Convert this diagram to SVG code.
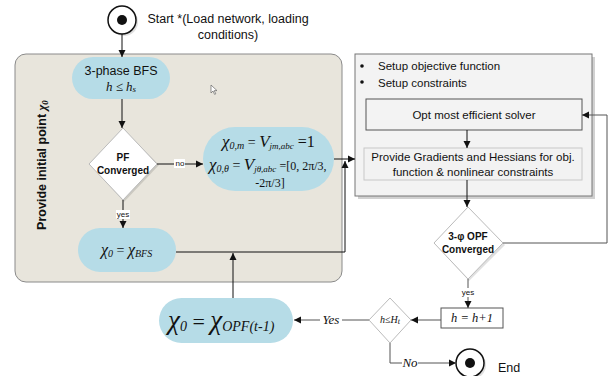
<svg xmlns="http://www.w3.org/2000/svg" width="610" height="376" viewBox="0 0 610 376">
<style>
.sans{font-family:"Liberation Sans","Open Sans",sans-serif;fill:#111}
.math{font-family:"Liberation Serif","DejaVu Serif",serif;font-style:italic;fill:#111}
.up{font-family:"Liberation Serif","DejaVu Serif",serif;font-style:normal;fill:#111}
.pill{fill:#b6dce7;stroke:none}
.ln{fill:none;stroke:#111;stroke-width:1}
.lng{fill:none;stroke:#555;stroke-width:1}
.dia{fill:#fff;stroke:#bbb;stroke-width:1}
.shadow{fill:#000;opacity:0.12}
</style>
<defs>
<marker id="ah" markerWidth="8" markerHeight="8" refX="7" refY="4" orient="auto" markerUnits="userSpaceOnUse">
<path d="M0,0.5 L7,4 L0,7.5 Z" fill="#111"/>
</marker>
</defs>
<rect width="610" height="376" fill="#fff"/>

<g id="panel">
<rect x="15" y="54" width="327" height="228" rx="11" fill="#e8e5dc" stroke="#8a8a8a" stroke-width="1"/>
<text class="sans" font-size="12.5" font-weight="bold" transform="translate(46,165) rotate(-90)" text-anchor="middle">Provide initial point <tspan class="math" font-weight="bold">χ</tspan><tspan class="math" font-size="9" dy="2">0</tspan></text>
<path d="M211,85 l0,8 l2,-2 l1.6,3.4 l1.2,-0.6 l-1.6,-3.2 l2.8,0 Z" fill="#fff" stroke="#666" stroke-width="0.7"/>
</g>

<g id="start">
<circle cx="123" cy="21" r="14" class="shadow" transform="translate(1,1)"/>
<circle cx="122" cy="20" r="14" fill="#fff" stroke="#111" stroke-width="1.5"/>
<circle cx="122" cy="20" r="5" fill="#111"/>
<text class="sans" font-size="12.5" x="228" y="23" text-anchor="middle">Start *(Load network, loading</text>
<text class="sans" font-size="12.5" x="228" y="39" text-anchor="middle">conditions)</text>
</g>

<g id="bfs">
<rect x="72" y="57" width="98" height="42" rx="21" class="pill"/>
<text class="sans" font-size="12.5" x="121" y="75" text-anchor="middle">3-phase BFS</text>
<text class="math" font-size="13" x="121" y="91" text-anchor="middle">h ≤  h<tspan font-size="9" dy="1">s</tspan></text>
</g>

<g id="pf">
<polygon points="124,130 159,165 124,202 91,165" class="shadow"/>
<polygon points="123,128 157,164 123,200 89,164" class="dia"/>
<text class="sans" font-size="10" font-weight="bold" x="123" y="161" text-anchor="middle">PF</text>
<text class="sans" font-size="10" font-weight="bold" x="123" y="174" text-anchor="middle">Converged</text>
</g>

<g id="init">
<rect x="203" y="127" width="131" height="64" rx="32" class="pill"/>
<text class="math" x="222" y="147" font-size="17">χ<tspan font-size="10" dy="2">0,m</tspan><tspan font-style="normal" font-size="14" dy="-2">  =  </tspan>V<tspan font-size="9" dy="2">jm,abc</tspan><tspan font-style="normal" font-size="16" dy="-2"> =1</tspan></text>
<text class="math" x="209" y="170" font-size="17">χ<tspan font-size="10" dy="2">0,θ</tspan><tspan font-style="normal" font-size="14" dy="-2">  =  </tspan>V<tspan font-size="9" dy="2">jθ,abc</tspan><tspan font-style="normal" font-size="12" dy="-2"> =[0, 2π/3,</tspan></text>
<text class="up" x="270" y="187" font-size="12" text-anchor="middle">-2π/3]</text>
</g>

<g id="x0bfs">
<rect x="78" y="228" width="98" height="44" rx="22" class="pill"/>
<text class="math" x="101" y="255" font-size="16">χ<tspan font-size="10" dy="2">0</tspan><tspan font-style="normal" font-size="14" dy="-2">  =  </tspan>χ<tspan font-size="10" dy="2">BFS</tspan></text>
</g>

<g id="optbox">
<rect x="358" y="57" width="237" height="142" fill="#000" opacity="0.18"/>
<rect x="355" y="54" width="237" height="142" fill="#f3f3f3" stroke="#777" stroke-width="1"/>
<circle cx="362" cy="66" r="1.8" fill="#111"/>
<circle cx="362" cy="82" r="1.8" fill="#111"/>
<text class="sans" font-size="11.5" x="378" y="70">Setup objective function</text>
<text class="sans" font-size="11.5" x="378" y="87">Setup constraints</text>
</g>

<g id="solver">
<rect x="366" y="99" width="216" height="31" fill="#f3f3f3" stroke="#555" stroke-width="1"/>
<text class="sans" font-size="11.5" x="474" y="119" text-anchor="middle">Opt most efficient solver</text>
</g>

<g id="grad">
<rect x="364" y="148" width="218" height="32" fill="#f2f2f2" stroke="#c8c8c8" stroke-width="1"/>
<text class="sans" font-size="11.5" x="473" y="161" text-anchor="middle">Provide Gradients and Hessians for obj.</text>
<text class="sans" font-size="11.5" x="473" y="176" text-anchor="middle">function &amp; nonlinear constraints</text>
</g>

<g id="opfconv">
<polygon points="469,209 505,245 469,281 436,245" class="shadow"/>
<polygon points="468,207 503,243 468,279 434,243" class="dia"/>
<text class="sans" font-size="10" font-weight="bold" x="468" y="240" text-anchor="middle">3-φ OPF</text>
<text class="sans" font-size="10" font-weight="bold" x="468" y="253" text-anchor="middle">Converged</text>
</g>

<g id="inc">
<rect x="441" y="308" width="62" height="20" fill="#fff" stroke="#555" stroke-width="1"/>
<text class="math" font-size="12.5" x="472" y="322" text-anchor="middle">h = h+1</text>
</g>

<g id="hle">
<polygon points="390,298 411,320 390,343 369,320" class="dia"/>
<text class="math" font-size="10" x="390" y="323" text-anchor="middle">h≤H<tspan font-size="8" dy="1">t</tspan></text>
</g>

<g id="x0opf">
<rect x="159" y="298" width="134" height="45" rx="22.5" class="pill"/>
<text class="math" x="168" y="329" font-size="27">χ<tspan font-size="14" dy="2">0</tspan><tspan font-style="normal" font-size="22" dy="-2"> = </tspan>χ<tspan font-size="14" dy="2">OPF(t-1)</tspan></text>
</g>

<g id="end">
<circle cx="471" cy="364" r="14" class="shadow" transform="translate(1,1)"/>
<circle cx="470" cy="363" r="14" fill="#fff" stroke="#111" stroke-width="1.5"/>
<circle cx="470" cy="363" r="5" fill="#111"/>
<text class="sans" font-size="12.5" x="498" y="372">End</text>
</g>

<g id="connectors">
<line x1="122" y1="34" x2="122" y2="57" class="ln" marker-end="url(#ah)"/>
<line x1="122" y1="99" x2="122" y2="128" class="ln" marker-end="url(#ah)"/>
<line x1="157" y1="164" x2="203" y2="164" class="ln" marker-end="url(#ah)"/>
<rect x="174" y="159" width="11" height="9" fill="#fff"/>
<text class="sans" font-size="8" x="180" y="166" text-anchor="middle">no</text>
<line x1="123" y1="200" x2="123" y2="228" class="ln" marker-end="url(#ah)"/>
<rect x="116" y="210" width="14" height="9" fill="#fff"/>
<text class="sans" font-size="8" x="123" y="217" text-anchor="middle">yes</text>
<line x1="334" y1="159" x2="355" y2="159" class="ln" marker-end="url(#ah)"/>
<path d="M176,252 H345 V161" class="ln" marker-end="url(#ah)"/>
<line x1="233" y1="298" x2="233" y2="253" class="ln" marker-end="url(#ah)"/>
<line x1="467" y1="130" x2="467" y2="148" class="ln" marker-end="url(#ah)"/>
<line x1="467" y1="180" x2="467" y2="207" class="ln" marker-end="url(#ah)"/>
<path d="M503,243 H607 V115 H582" class="lng" marker-end="url(#ah)"/>
<line x1="468" y1="279" x2="468" y2="308" class="lng" marker-end="url(#ah)"/>
<rect x="461" y="288" width="14" height="9" fill="#fff"/>
<text class="sans" font-size="8" x="468" y="295" text-anchor="middle">yes</text>
<line x1="441" y1="320" x2="411" y2="320" class="lng" marker-end="url(#ah)"/>
<line x1="369" y1="320" x2="294" y2="320" class="lng" marker-end="url(#ah)"/>
<rect x="320" y="312" width="22" height="14" fill="#fff"/>
<text class="math" font-size="13" x="331" y="324" text-anchor="middle">Yes</text>
<path d="M390,343 V363 H456" class="lng" marker-end="url(#ah)"/>
<rect x="402" y="356" width="16" height="14" fill="#fff"/>
<text class="math" font-size="13" x="410" y="367" text-anchor="middle">No</text>
</g>
</svg>
